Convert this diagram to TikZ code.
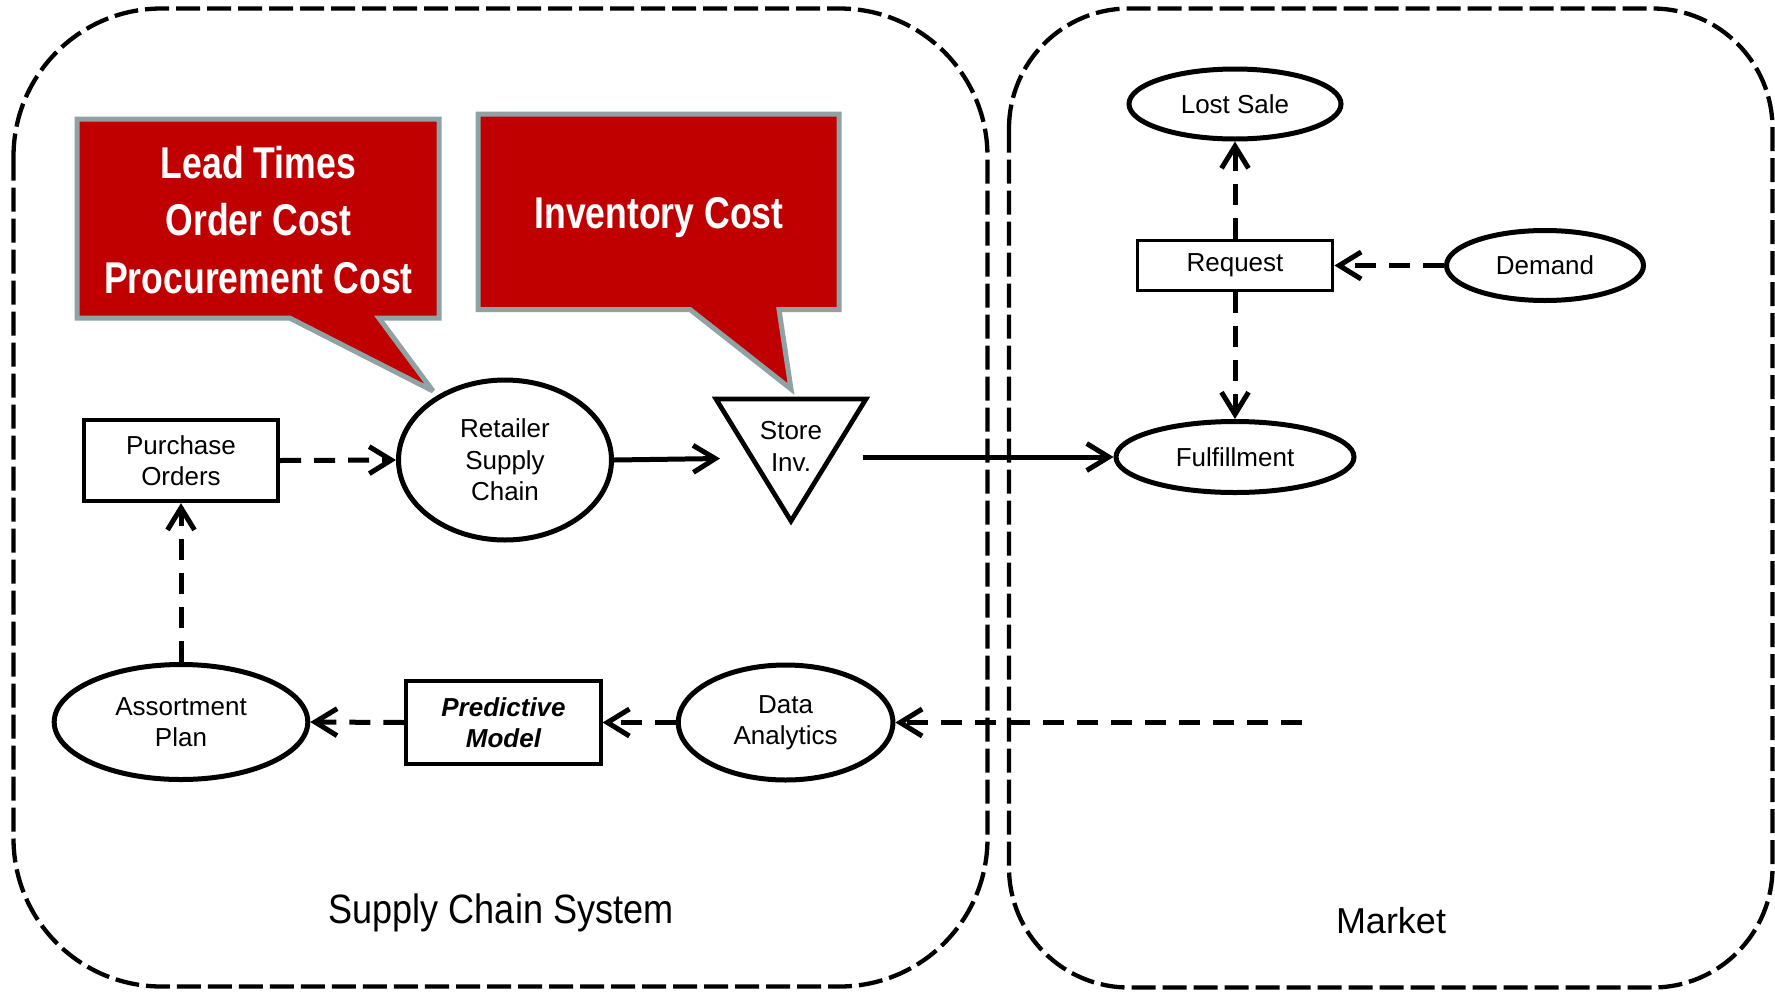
\documentclass[tikz,border=0pt]{standalone}
\usepackage{fontspec}
\setmainfont{Liberation Sans}
\newfontfamily\calloutfamily{Liberation Sans}[FakeStretch=0.8]
\newfontfamily\titlefamily{Liberation Sans}[FakeStretch=0.88]
\usetikzlibrary{shapes.geometric,arrows.meta}
\definecolor{calloutred}{HTML}{C00000}
\definecolor{calloutedge}{HTML}{8FA3A5}

\begin{document}
\begin{tikzpicture}[x=1pt,y=-1pt,
  bodytext/.style={font=\fontsize{26}{31.5}\selectfont},
  rectnode/.style={draw, rectangle, line width=3.8pt, inner sep=0pt, align=center, bodytext},
  ovalnode/.style={draw, ellipse, line width=5pt, inner sep=0pt, align=center, bodytext},
  solidlink/.style={line width=5pt, -{Straight Barb[length=22pt,width=27pt]}},
  dashlink/.style={solidlink, dash pattern=on 21pt off 13pt},
  regionbox/.style={draw, line width=4.3pt, dash pattern=on 24pt off 7pt},
  bubble/.style={fill=calloutred, draw=calloutedge, line width=5pt, line join=miter, miter limit=4},
  bubbletext/.style={text=white, align=center, inner sep=0pt,
    font=\calloutfamily\bfseries\fontsize{44.5}{57.5}\selectfont}]

\useasboundingbox (0,0) rectangle (1775,991);
\fill[white] (0,0) rectangle (1775,991);

% the two system regions
\draw[regionbox, rounded corners=148pt] (13.5,8.5) rectangle (987.5,986.5);
\draw[regionbox, rounded corners=120pt] (1009,8.5) rectangle (1772.5,987.5);

% cost call-outs
\draw[bubble] (77,119) -- (439,119) -- (439,318) -- (378.9,318) -- (433,391)
  -- (289.6,318) -- (77,318) -- cycle;
\node[bubbletext] (costs) at (258.5,220) {Lead Times\\Order Cost\\Procurement Cost};
\draw[bubble] (478,114) -- (839,114) -- (839,309.5) -- (779,309.5) -- (791,389)
  -- (690,309.5) -- (478,309.5) -- cycle;
\node[bubbletext, anchor=base] (invcost) at (659,228.3) {Inventory Cost};

% supply chain side
\node[rectnode, minimum width=194.5pt, minimum height=81.5pt] (po) at (181,460.5) {Purchase\\Orders};
\node[ovalnode, minimum width=213pt, minimum height=160pt] (rsc) at (505,460) {Retailer\\Supply\\Chain};

\coordinate (tri-l) at (716,399);
\coordinate (tri-r) at (866,399);
\coordinate (tri-b) at (791,521);
\draw[line width=4.7pt, line join=miter] (tri-l) -- (tri-r) -- (tri-b) -- cycle;
\node[bodytext, align=center, inner sep=0pt] (store) at (791,446.5) {Store\\Inv.};
\coordinate (storein) at (720,458.5);
\coordinate (storeout) at (862.5,457);

\node[ovalnode, minimum width=253.6pt, minimum height=115pt] (asp) at (181,722) {Assortment\\Plan};
\node[rectnode, minimum width=194.5pt, minimum height=82.5pt,
  font=\bfseries\itshape\fontsize{26}{31.5}\selectfont] (pm) at (503.5,722.5) {Predictive\\Model};
\node[ovalnode, minimum width=214.6pt, minimum height=115pt] (da) at (785.6,722.5) {Data\\Analytics};
\coordinate (feed) at (1302,722.5);

% market side
\node[ovalnode, minimum width=212pt, minimum height=70pt] (lost) at (1235,104) {Lost Sale};
\node[rectnode, minimum width=195pt, minimum height=50pt] (req) at (1235,265.5) {Request};
\node[ovalnode, minimum width=197pt, minimum height=70pt] (dem) at (1545,265.5) {Demand};
\node[ovalnode, minimum width=238pt, minimum height=71pt] (ful) at (1235,457) {Fulfillment};

% flows
\draw[dashlink] (po.east) -- (rsc.west);
\draw[solidlink] (rsc.east) -- (storein);
\draw[solidlink] (storeout) -- (ful.west);
\draw[dashlink] (req.north) -- (lost.south);
\draw[dashlink] (req.south) -- (ful.north);
\draw[dashlink] (dem.west) -- (req.east);
\draw[dashlink] (feed) -- (da.east);
\draw[dashlink] (da.west) -- (pm.east);
\draw[dashlink] (pm.west) -- (asp.east);
\draw[dashlink] (asp.north) -- (po.south);

% region titles
\node[font=\titlefamily\fontsize{41}{49}\selectfont, anchor=base] (scs) at (501,923.3) {Supply Chain System};
\node[font=\fontsize{36}{43}\selectfont, anchor=base] (mkt) at (1391,933.3) {Market};
\end{tikzpicture}
\end{document}
